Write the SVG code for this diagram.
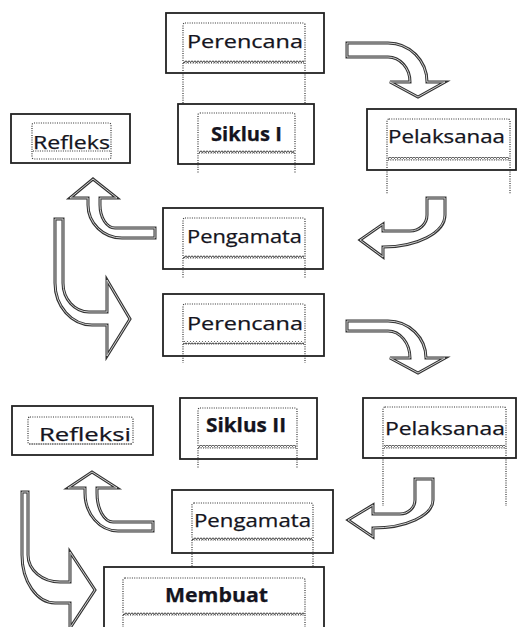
<svg xmlns="http://www.w3.org/2000/svg" xmlns:xlink="http://www.w3.org/1999/xlink" width="518" height="627" viewBox="0 0 518 627">
<style>
.outer{fill:#fff;stroke:#222;stroke-width:1.8}
.inner{fill:none;stroke:#333;stroke-width:1.2;stroke-dasharray:1 1.3}
.vl{stroke:#333;stroke-width:1.2;stroke-dasharray:1 1.3;fill:none}
.wave{fill:url(#zz)}
.t{font-family:"Open Sans","Noto Sans","Liberation Sans",sans-serif;font-size:19px;fill:#141420;stroke:#141420;stroke-width:0.25}
.b{font-weight:bold;font-size:19px}
.ao{fill:#fff;stroke:#333;stroke-width:3;stroke-linejoin:miter}
.ai{fill:none;stroke:#d0d0d0;stroke-width:1}
</style>
<defs>
<pattern id="zz" width="3" height="3" patternUnits="userSpaceOnUse">
<path d="M0,0.5 L1.5,2.5 L3,0.5" fill="none" stroke="#333" stroke-width="1"/>
</pattern>
<path id="a1" d="M347,43 L388,43 A39,39 0 0 1 427,82 L445,82 L418,97 L390,82 L410,82 A22,25 0 0 0 388,57 L347,57 Z"/>
<path id="a2" d="M427,198 L445,198 L445,215 A62,32 0 0 1 383,247 L383,257 L360,240 L383,224 L383,231 L410,231 A17,16 0 0 0 427,215 Z"/>
<path id="a3" d="M155,228 L155,238 L122,238 A34,33 0 0 1 88,205 L88,198 L70,198 L93,179 L117,198 L100,198 L100,205 A15,23 0 0 0 115,228 Z"/>
<path id="a4" d="M55,219 L63,219 L63,283 A26,29 0 0 0 89,312 L107,312 L107,280 L130,319 L107,356 L107,325 L92,325 A37,42 0 0 1 55,283 Z"/>
<path id="a5" d="M347,321 L388,321 A38,37 0 0 1 426,358 L445,358 L418,373 L390,358 L410,358 A22,27 0 0 0 388,331 L347,331 Z"/>
<path id="a6" d="M153,522 L153,531 L118,531 A33,38 0 0 1 85,493 L85,488 L68,488 L92,472 L117,488 L97,488 L97,493 A16,29 0 0 0 113,522 Z"/>
<path id="a7" d="M22,492 L28,492 L28,555 A32,27 0 0 0 60,582 L70,582 L70,552 L95,590 L70,628 L70,603 L55,603 A33,48 0 0 1 22,555 Z"/>
<path id="a8" d="M415,479 L433,479 L433,500 A60,28 0 0 1 373,528 L373,537 L348,520 L373,505 L373,514 L400,514 A15,14 0 0 0 415,500 Z"/>
</defs>
<rect width="518" height="627" fill="#fff"/>

<g id="connectors">
<g id="arrow1"><use xlink:href="#a1" class="ao"/><use xlink:href="#a1" class="ai"/></g>
<g id="arrow2"><use xlink:href="#a2" class="ao"/><use xlink:href="#a2" class="ai"/></g>
<g id="arrow3"><use xlink:href="#a3" class="ao"/><use xlink:href="#a3" class="ai"/></g>
<g id="arrow4"><use xlink:href="#a4" class="ao"/><use xlink:href="#a4" class="ai"/></g>
<g id="arrow5"><use xlink:href="#a5" class="ao"/><use xlink:href="#a5" class="ai"/></g>
<g id="arrow6"><use xlink:href="#a6" class="ao"/><use xlink:href="#a6" class="ai"/></g>
<g id="arrow7"><use xlink:href="#a7" class="ao"/><use xlink:href="#a7" class="ai"/></g>
<g id="arrow8"><use xlink:href="#a8" class="ao"/><use xlink:href="#a8" class="ai"/></g>
</g>

<g id="perencana1">
<rect class="outer" x="166" y="13" width="158" height="60"/>
<rect class="inner" x="183" y="23" width="122" height="40" rx="2"/>
<rect class="wave" x="184" y="60" width="120" height="3"/>
<path class="vl" d="M183,63 V104 M305,63 V104"/>
<text class="t" x="187" y="48" textLength="116" lengthAdjust="spacingAndGlyphs">Perencana</text>
</g>

<g id="siklus1">
<rect class="outer" x="178" y="104" width="136" height="60"/>
<rect class="inner" x="198" y="113" width="97" height="40" rx="2"/>
<rect class="wave" x="199" y="150" width="95" height="3"/>
<path class="vl" d="M198,153 V173 M295,153 V173"/>
<text class="t b" x="211" y="141" textLength="71" lengthAdjust="spacingAndGlyphs">Siklus I</text>
</g>

<g id="pelaksanaan1">
<rect class="outer" x="367" y="109" width="149" height="61"/>
<rect class="inner" x="387" y="119" width="123" height="41" rx="2"/>
<rect class="wave" x="388" y="157" width="121" height="3"/>
<path class="vl" d="M387,160 V194 M510,160 V194"/>
<text class="t" x="388" y="143" textLength="117" lengthAdjust="spacingAndGlyphs">Pelaksanaa</text>
</g>

<g id="refleksi1">
<rect class="outer" x="11" y="114" width="119" height="49"/>
<rect class="inner" x="32" y="123" width="79" height="36" rx="2"/>
<path class="vl" d="M33,151 H110"/>
<text class="t" x="33" y="149" textLength="77" lengthAdjust="spacingAndGlyphs">Refleks</text>
</g>

<g id="pengamatan1">
<rect class="outer" x="163" y="208" width="160" height="61"/>
<rect class="inner" x="183" y="218" width="122" height="40" rx="2"/>
<rect class="wave" x="184" y="255" width="120" height="3"/>
<path class="vl" d="M183,258 V278 M305,258 V278"/>
<text class="t" x="187" y="243" textLength="115" lengthAdjust="spacingAndGlyphs">Pengamata</text>
</g>

<g id="perencana2">
<rect class="outer" x="163" y="294" width="161" height="62"/>
<rect class="inner" x="183" y="304" width="122" height="40" rx="2"/>
<rect class="wave" x="184" y="341" width="120" height="3"/>
<path class="vl" d="M183,344 V363 M305,344 V363"/>
<text class="t" x="187" y="330" textLength="116" lengthAdjust="spacingAndGlyphs">Perencana</text>
</g>

<g id="pelaksanaan2">
<rect class="outer" x="363" y="398" width="153" height="60"/>
<rect class="inner" x="383" y="407" width="123" height="41" rx="2"/>
<rect class="wave" x="384" y="445" width="121" height="3"/>
<path class="vl" d="M383,448 V506 M506,448 V506"/>
<text class="t" x="385" y="435" textLength="120" lengthAdjust="spacingAndGlyphs">Pelaksanaa</text>
</g>

<g id="refleksi2">
<rect class="outer" x="12" y="406" width="141" height="49"/>
<rect class="inner" x="28" y="417" width="105" height="27" rx="2"/>
<path class="vl" d="M29,444 H132"/>
<text class="t" x="39" y="441" textLength="92" lengthAdjust="spacingAndGlyphs">Refleksi</text>
</g>

<g id="siklus2">
<rect class="outer" x="180" y="398" width="137" height="61"/>
<rect class="inner" x="198" y="408" width="99" height="40" rx="2"/>
<rect class="wave" x="199" y="445" width="97" height="3"/>
<path class="vl" d="M198,448 V468 M297,448 V468"/>
<text class="t b" x="206" y="432" textLength="80" lengthAdjust="spacingAndGlyphs">Siklus II</text>
</g>

<g id="pengamatan2">
<rect class="outer" x="172" y="490" width="161" height="63"/>
<rect class="inner" x="192" y="503" width="121" height="37" rx="2"/>
<rect class="wave" x="193" y="537" width="119" height="3"/>
<path class="vl" d="M192,540 V567 M313,540 V567"/>
<text class="t" x="194" y="527" textLength="117" lengthAdjust="spacingAndGlyphs">Pengamata</text>
</g>

<g id="membuat">
<rect class="outer" x="104" y="567" width="220" height="70"/>
<rect class="inner" x="123" y="578" width="182" height="37" rx="2"/>
<rect class="wave" x="124" y="612" width="180" height="3"/>
<path class="vl" d="M123,615 V627 M305,615 V627"/>
<text class="t b" x="165" y="602" textLength="103" lengthAdjust="spacingAndGlyphs">Membuat</text>
</g>
</svg>
